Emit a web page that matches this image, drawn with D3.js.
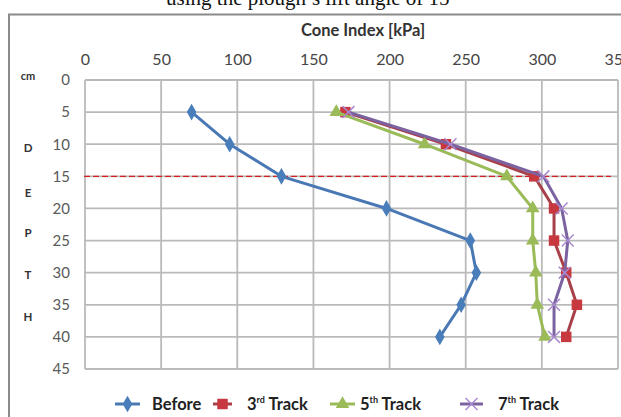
<!DOCTYPE html>
<html><head><meta charset="utf-8">
<script src="https://cdn.jsdelivr.net/npm/d3@7"></script>
<style>body{margin:0;background:#fff}svg{display:block}</style>
</head><body>
<svg id="c" width="621" height="417"></svg>
<script>
const depths = [5, 10, 15, 20, 25, 30, 35, 40];
const before = [70, 95, 129, 198, 253, 257, 247, 233];
const track3 = [171, 237, 295, 308, 308, 316, 323, 316];
const track5 = [165, 223, 277, 294, 294, 296, 297, 302];
const track7 = [173, 240, 301, 313, 317, 315, 308, 308];
const xTicks = [0, 50, 100, 150, 200, 250, 300, 350];
const yTicks = [0, 5, 10, 15, 20, 25, 30, 35, 40, 45];
const sideLetters = ["D", "E", "P", "T", "H"];
const seriesNames = ["Before", "3rd Track", "5th Track", "7th Track"];

const svg = d3.select("#c");
const x = d3.scaleLinear().domain([0, 350]).range([85, 618]);
const y = d3.scaleLinear().domain([0, 45]).range([80, 369]);
const font = "Lato, 'Open Sans', sans-serif";

// partial caption at top (cropped in the original)
svg.append("text").attr("x", 312).attr("y", 5).attr("text-anchor", "middle")
  .attr("font-family", "'Liberation Serif', 'DejaVu Serif', serif").attr("font-size", 21)
  .attr("fill", "#111").text("using the plough\u2019s lift angle of 15\u00b0");

// frame
svg.append("path").attr("d", "M9,417 V14.5 H621").attr("fill", "none")
  .attr("stroke", "#8a8a8a").attr("stroke-width", 2);

// grid
const g = svg.append("g");
g.selectAll(".gx").data(xTicks).join("line")
  .attr("x1", d => x(d)).attr("x2", d => x(d)).attr("y1", y(0)).attr("y2", y(45))
  .attr("stroke", "#bababa").attr("stroke-width", 1.8);
g.selectAll(".gy").data(yTicks).join("line")
  .attr("x1", x(0)).attr("x2", x(350)).attr("y1", d => y(d)).attr("y2", d => y(d))
  .attr("stroke", "#bababa").attr("stroke-width", 1.8);

// top axis labels
const xa = svg.append("g").attr("transform", `translate(0,${y(0)})`)
  .call(d3.axisTop(x).tickValues(xTicks).tickSize(0).tickPadding(15).tickFormat(d3.format("d")));
xa.select(".domain").remove();
xa.selectAll("text").attr("font-family", font).attr("font-size", 16).attr("fill", "#454545");

// left axis labels
const ya = svg.append("g").attr("transform", `translate(${x(0)},0)`)
  .call(d3.axisLeft(y).tickValues(yTicks).tickSize(0).tickPadding(15).tickFormat(d3.format("d")));
ya.select(".domain").remove();
ya.selectAll("text").attr("font-family", font).attr("font-size", 15).attr("fill", "#5a5a5a");

// axis title
svg.append("text").attr("x", 363).attr("y", 36).attr("text-anchor", "middle")
  .attr("font-family", font).attr("font-weight", "bold").attr("font-size", 16.5)
  .attr("fill", "#333").text("Cone Index [kPa]");

// side labels
svg.append("text").attr("x", 28).attr("y", 80).attr("text-anchor", "middle")
  .attr("font-family", font).attr("font-weight", "bold").attr("font-size", 11)
  .attr("fill", "#333").text("cm");
const letterY = [148, 193, 233, 275, 317];
svg.selectAll(".sl").data(sideLetters).join("text")
  .attr("x", 28).attr("y", (d, i) => letterY[i] + 4).attr("text-anchor", "middle")
  .attr("font-family", font).attr("font-weight", "bold").attr("font-size", 11.5)
  .attr("fill", "#333").text(d => d);

// dashed reference line at 15 cm
svg.append("line").attr("x1", 84).attr("x2", 611).attr("y1", y(15)).attr("y2", y(15))
  .attr("stroke", "#d42020").attr("stroke-width", 1.2).attr("stroke-dasharray", "6,3");

const series = [
  {vals: before, line: "#4a78b4", fill: "#4a7ebb", sym: d3.symbolDiamond, size: 80, stroke: false},
  {vals: track3, line: "#a8404a", fill: "#c8383f", sym: d3.symbolSquare, size: 110, stroke: false},
  {vals: track5, line: "#9bbb59", fill: "#9bbb59", sym: d3.symbolTriangle, size: 80, stroke: false},
  {vals: track7, line: "#7b62a0", fill: "#a98ad0", sym: d3.symbolX, size: 95, stroke: true}
];
const lineGen = d3.line().x(d => x(d[1])).y(d => y(d[0]));
series.forEach(s => {
  const pts = depths.map((d, i) => [d, s.vals[i]]);
  svg.append("path").attr("d", lineGen(pts)).attr("fill", "none")
    .attr("stroke", s.line).attr("stroke-width", 3).attr("stroke-linejoin", "round");
  svg.selectAll(null).data(pts).join("path")
    .attr("transform", d => `translate(${x(d[1])},${y(d[0])})`)
    .attr("d", d3.symbol().type(s.sym).size(s.size))
    .attr("fill", s.stroke ? "none" : s.fill)
    .attr("stroke", s.stroke ? s.fill : "none").attr("stroke-width", 1.5);
});

// legend
const legX = [[115, 140], [213, 232], [330, 355], [460, 483]];
const legTextX = [152, 247, 360, 498];
const ly = 404;
series.forEach((s, i) => {
  svg.append("line").attr("x1", legX[i][0]).attr("x2", legX[i][1]).attr("y1", ly).attr("y2", ly)
    .attr("stroke", s.line).attr("stroke-width", 3);
  svg.append("path").attr("transform", `translate(${(legX[i][0] + legX[i][1]) / 2},${ly})`)
    .attr("d", d3.symbol().type(s.sym).size(s.size))
    .attr("fill", s.stroke ? "none" : s.fill)
    .attr("stroke", s.stroke ? s.fill : "none").attr("stroke-width", 1.5);
  const t = svg.append("text").attr("x", legTextX[i]).attr("y", ly + 6)
    .attr("font-family", font).attr("font-weight", "bold").attr("font-size", 16.5).attr("fill", "#222");
  const name = seriesNames[i];
  const m = name.match(/^(\d)(rd|th) (.*)$/);
  if (m) {
    t.append("tspan").text(m[1]);
    t.append("tspan").attr("font-size", 9).attr("dy", -7).text(m[2]);
    t.append("tspan").attr("dy", 7).text(" " + m[3]);
  } else t.text(name);
});
</script>
</body></html>
